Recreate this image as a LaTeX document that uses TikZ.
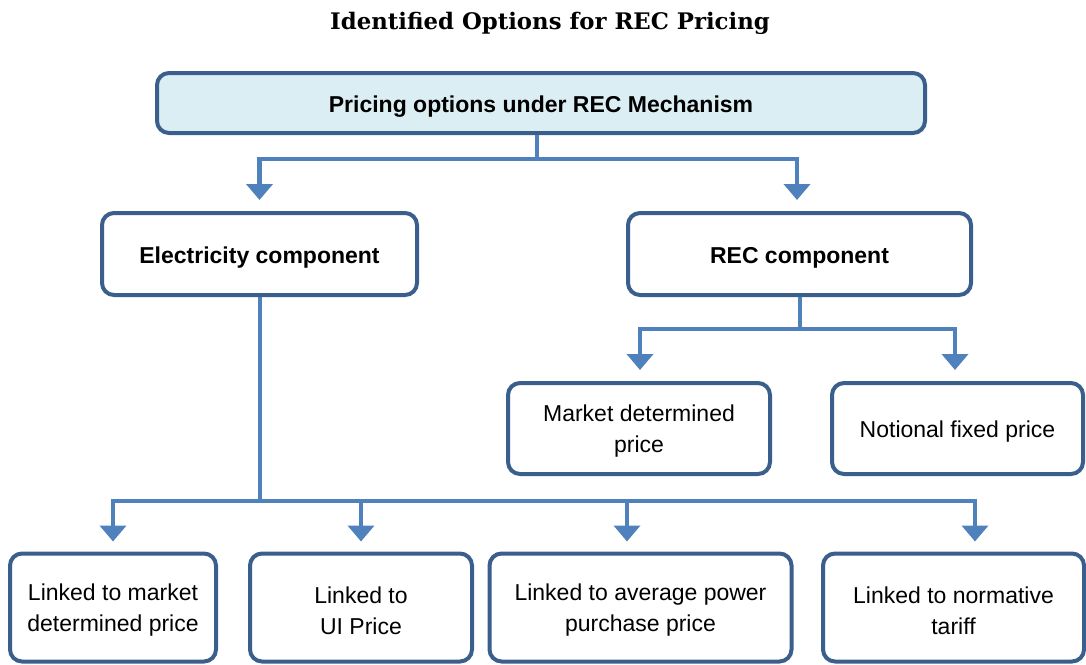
\documentclass[tikz,border=0pt]{standalone}
\usepackage{fontspec}
\newfontfamily\arialf{Liberation Sans}
\newfontfamily\titlef{DejaVu Serif}
\usetikzlibrary{arrows.meta}
\definecolor{conncol}{HTML}{4F81BD}
\definecolor{bordcol}{HTML}{3A5F8C}
\definecolor{topfill}{HTML}{DBEEF4}
\begin{document}
\begin{tikzpicture}[x=1pt,y=-1pt,
  box/.style={draw=bordcol,line width=4pt,rounded corners=12pt,fill=white,inner sep=0pt},
  txt/.style={align=center,inner sep=0pt,yshift=-3pt,font=\arialf\fontsize{23}{31}\selectfont},
  boldtxt/.style={txt,yshift=-1pt,font=\arialf\bfseries\fontsize{23}{28}\selectfont},
  conn/.style={draw=conncol,line width=4.5pt},
  arr/.style={conn,-{Triangle[width=26pt,length=16pt]}}]
\useasboundingbox (0,0) rectangle (1086,664);

\node[font=\titlef\bfseries\fontsize{22.8}{26}\selectfont,anchor=base] (title) at (550,29)
  {Identified Options for REC Pricing};

\node[box,fill=topfill,minimum width=768pt,minimum height=60pt,
  label={[boldtxt]center:Pricing options under REC Mechanism}] (top) at (541,103) {};
\node[box,minimum width=315pt,minimum height=82pt,
  label={[boldtxt]center:Electricity component}] (elec) at (259.5,254) {};
\node[box,minimum width=343pt,minimum height=82pt,
  label={[boldtxt]center:REC component}] (rec) at (799.5,254) {};
\node[box,minimum width=262pt,minimum height=91pt,
  label={[txt]center:{Market determined\\price}}] (mkt) at (639,428.5) {};
\node[box,minimum width=251pt,minimum height=91pt,
  label={[txt]center:Notional fixed price}] (notl) at (957.5,428.5) {};
\node[box,minimum width=206pt,minimum height=108pt,
  label={[txt]center:{Linked to market\\determined price}}] (b1) at (113,607.5) {};
\node[box,minimum width=222pt,minimum height=108pt,
  label={[txt]center:{Linked to\\UI Price}}] (b2) at (361,607.5) {};
\node[box,minimum width=302pt,minimum height=108pt,
  label={[txt]center:{Linked to average power\\purchase price}}] (b3) at (640.5,607.5) {};
\node[box,minimum width=261pt,minimum height=108pt,
  label={[txt]center:{Linked to normative\\tariff}}] (b4) at (953.5,607.5) {};

% top level connectors
\coordinate (j1) at (537,159);
\draw[conn] (top.south -| j1) -- (j1);
\draw[arr] (j1) -| ([yshift=11pt]elec.north);
\draw[arr] (j1) -| ([xshift=-2.5pt,yshift=11pt]rec.north);

% REC connectors
\coordinate (j2) at (800,329);
\draw[conn] (rec.south -| j2) -- (j2);
\draw[arr] (j2) -| ([xshift=1pt,yshift=11pt]mkt.north);
\draw[arr] (j2) -| ([xshift=-2.5pt,yshift=11pt]notl.north);

% Electricity connectors
\coordinate (j3) at (260,501);
\draw[conn] (elec.south -| j3) -- (j3);
\draw[arr] (j3) -| ([yshift=10pt]b1.north);
\draw[arr] (j3) -| ([yshift=10pt]b2.north);
\draw[arr] (j3) -| ([xshift=-13.5pt,yshift=10pt]b3.north);
\draw[arr] (j3) -| ([xshift=21.5pt,yshift=10pt]b4.north);
\end{tikzpicture}
\end{document}
